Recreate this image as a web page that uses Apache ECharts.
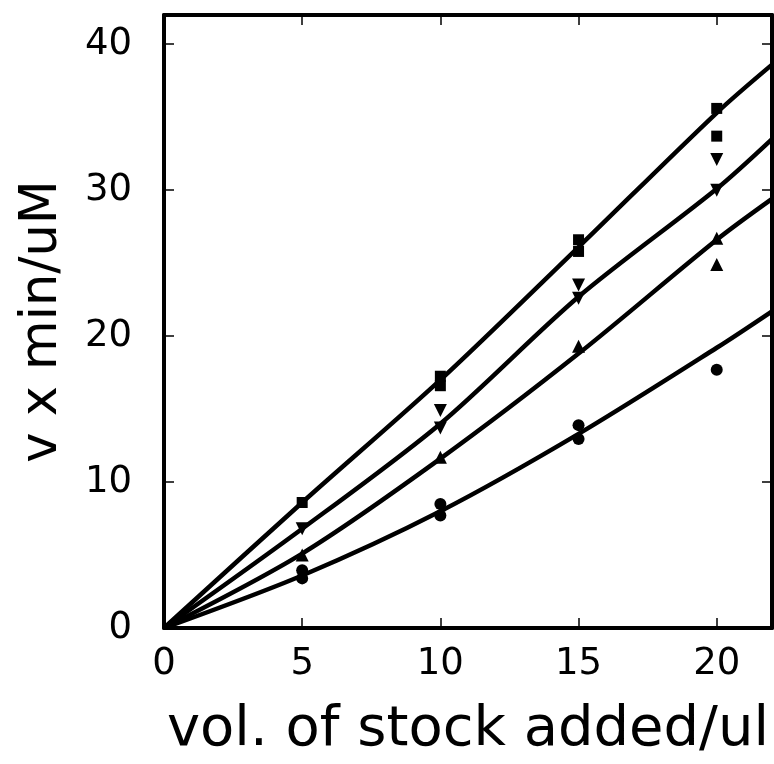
<!DOCTYPE html>
<html>
<head>
<meta charset="utf-8">
<title>v x min/uM vs vol. of stock added</title>
<script src="https://cdn.jsdelivr.net/npm/echarts@6/dist/echarts.min.js"></script>
<style>
    html, body { margin: 0; padding: 0; background: #fff; }
    #chart { width: 774px; height: 764px; }
</style>
</head>
<body>
<div id="chart"></div>
<script>
    // measured points (x = vol. of stock added, y = v x min/uM)
    var squarePts = [[5, 8.6], [10, 17.25], [10, 16.6], [15, 26.6], [15, 25.8], [20, 35.6], [20, 33.7]];
    var downTriPts = [[5, 6.8], [10, 14.9], [10, 13.7], [15, 23.5], [15, 22.6], [20, 32.1], [20, 30.0]];
    var upTriPts = [[5, 5.0], [10, 11.7], [15, 19.3], [20, 26.7], [20, 24.9]];
    var circlePts = [[5, 3.95], [5, 3.4], [10, 8.5], [10, 7.7], [15, 13.9], [15, 12.95], [20, 17.7]];

    // fitted curves
    var fitX = [0, 5, 10, 15, 20, 22];
    var fitSquare = [0, 8.6, 17.0, 26.1, 35.3, 38.6];
    var fitDownTri = [0, 6.8, 14.0, 22.7, 30.1, 33.5];
    var fitUpTri = [0, 5.1, 11.6, 18.8, 26.6, 29.4];
    var fitCircle = [0, 3.6, 8.0, 13.3, 19.2, 21.7];

    var xTicks = [0, 5, 10, 15, 20];
    var yTicks = [0, 10, 20, 30, 40];

    var FONT = 'DejaVu Sans';

    function pairs(ys) {
        return fitX.map(function (x, i) { return [x, ys[i]]; });
    }

    function fitLine(ys) {
        return {
            type: 'line',
            data: pairs(ys),
            smooth: 0.3,
            showSymbol: false,
            silent: true,
            clip: true,
            lineStyle: { color: '#000', width: 4.5 },
            z: 2
        };
    }

    function points(data, symbol, size, rotate) {
        return {
            type: 'scatter',
            data: data,
            symbol: symbol,
            symbolSize: size,
            symbolRotate: rotate || 0,
            itemStyle: { color: '#000', opacity: 1 },
            z: 3
        };
    }

    var frameAxis = {
        axisLine: { show: true, onZero: false, lineStyle: { color: '#000', width: 4 } },
        axisTick: { show: true, inside: true, length: 10, lineStyle: { color: '#000', width: 1.5 } },
        splitLine: { show: false }
    };

    var myChart = echarts.init(document.getElementById('chart'));
    myChart.setOption({
        animation: false,
        backgroundColor: '#fff',
        grid: { left: 164, right: 2, top: 15, bottom: 136, outerBoundsMode: 'none', containLabel: false },
        xAxis: [
            Object.assign({
                type: 'value', min: 0, max: 22, interval: 5, position: 'bottom',
                name: 'vol. of stock added/ul', nameLocation: 'middle', nameGap: 74,
                nameTextStyle: { fontFamily: FONT, fontSize: 56, color: '#000' },
                axisLabel: {
                    margin: 18, fontFamily: FONT, fontSize: 37, color: '#000', showMaxLabel: false,
                    formatter: function (v) { return xTicks.indexOf(v) >= 0 ? String(v) : ''; }
                }
            }, frameAxis),
            Object.assign({
                type: 'value', min: 0, max: 22, interval: 5, position: 'top',
                axisLabel: { show: false }
            }, frameAxis)
        ],
        yAxis: [
            Object.assign({
                type: 'value', min: 0, max: 42, interval: 10, position: 'left',
                name: 'v x min/uM', nameLocation: 'middle', nameGap: 96,
                nameTextStyle: { fontFamily: FONT, fontSize: 51, color: '#000' },
                axisLabel: {
                    margin: 32, fontFamily: FONT, fontSize: 37, color: '#000', showMaxLabel: false,
                    formatter: function (v) { return yTicks.indexOf(v) >= 0 ? String(v) : ''; }
                }
            }, frameAxis),
            Object.assign({
                type: 'value', min: 0, max: 42, interval: 10, position: 'right',
                axisLabel: { show: false }
            }, frameAxis)
        ],
        series: [
            fitLine(fitSquare),
            fitLine(fitDownTri),
            fitLine(fitUpTri),
            fitLine(fitCircle),
            points(squarePts, 'rect', 11),
            points(downTriPts, 'triangle', 13, 180),
            points(upTriPts, 'triangle', 13),
            points(circlePts, 'circle', 12)
        ]
    });
</script>
</body>
</html>
